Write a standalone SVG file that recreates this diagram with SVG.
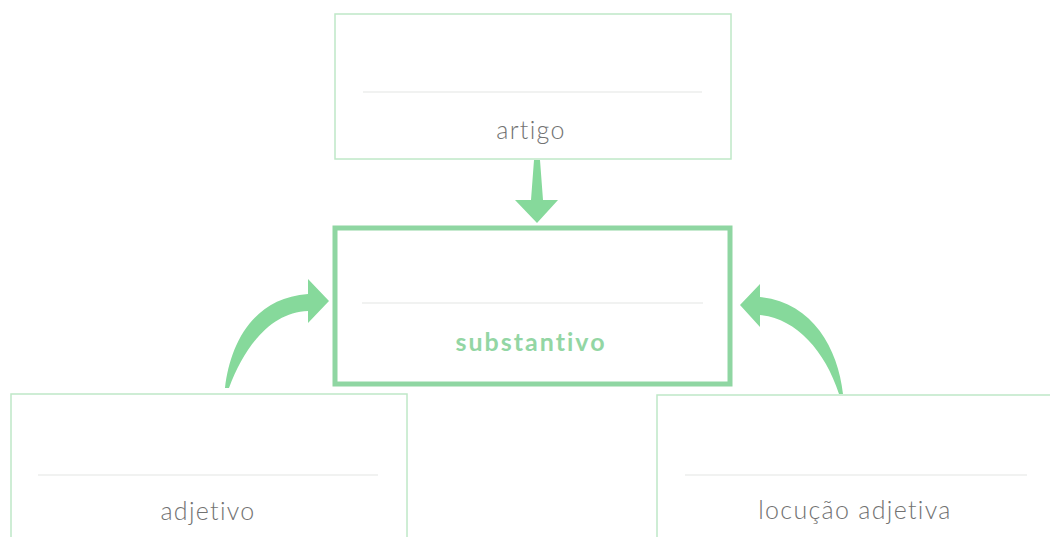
<svg xmlns="http://www.w3.org/2000/svg" width="1050" height="537" viewBox="0 0 1050 537">
<style>
.box{fill:#ffffff;stroke:#bfe8c7;stroke-width:1.5}
.main{fill:#ffffff;stroke:#8fd6a2;stroke-width:5}
.rule{stroke:#e3e6e4;stroke-width:1.2}
.lbl{font-family:Lato,"Liberation Sans",sans-serif;font-size:25px;font-weight:300;fill:#727272;text-anchor:middle;letter-spacing:1.3px}
.bold{font-family:Lato,"Liberation Sans",sans-serif;font-size:25px;font-weight:bold;fill:#93d6a4;text-anchor:middle;letter-spacing:2px}
.arrow{fill:#86d99b}
</style>
<rect width="1050" height="537" fill="#ffffff"/>
<g id="artigo">
<rect class="box" x="335" y="14" width="396" height="145"/>
<line class="rule" x1="363" y1="92" x2="702" y2="92"/>
<text class="lbl" x="531" y="139">artigo</text>
</g>
<g id="substantivo">
<rect class="main" x="335" y="228" width="395" height="156"/>
<line class="rule" x1="362" y1="303" x2="703" y2="303"/>
<text class="bold" x="531" y="351">substantivo</text>
</g>
<g id="adjetivo">
<rect class="box" x="11" y="394" width="396" height="150"/>
<line class="rule" x1="38" y1="475" x2="378" y2="475"/>
<text class="lbl" x="208" y="520">adjetivo</text>
</g>
<g id="locucao">
<rect class="box" x="657" y="395" width="400" height="150"/>
<line class="rule" x1="685" y1="475" x2="1027" y2="475"/>
<text class="lbl" x="855" y="519">locução adjetiva</text>
</g>
<g id="connectors">
<path class="arrow" d="M534,160 L540,160 L543,200 L558,200 L537,223 L515,200 L531,200 Z"/>
<path class="arrow" d="M225,388 C230,345 252,298 308,294 L308,279 L329,301 L308,323 L308,311 C272,312 245,345 229,388 Z"/>
<path class="arrow" d="M843,394 C838,348 812,302 760,297 L760,284 L740,305 L760,327 L760,315 C795,318 825,350 839,394 Z"/>
</g>
</svg>
